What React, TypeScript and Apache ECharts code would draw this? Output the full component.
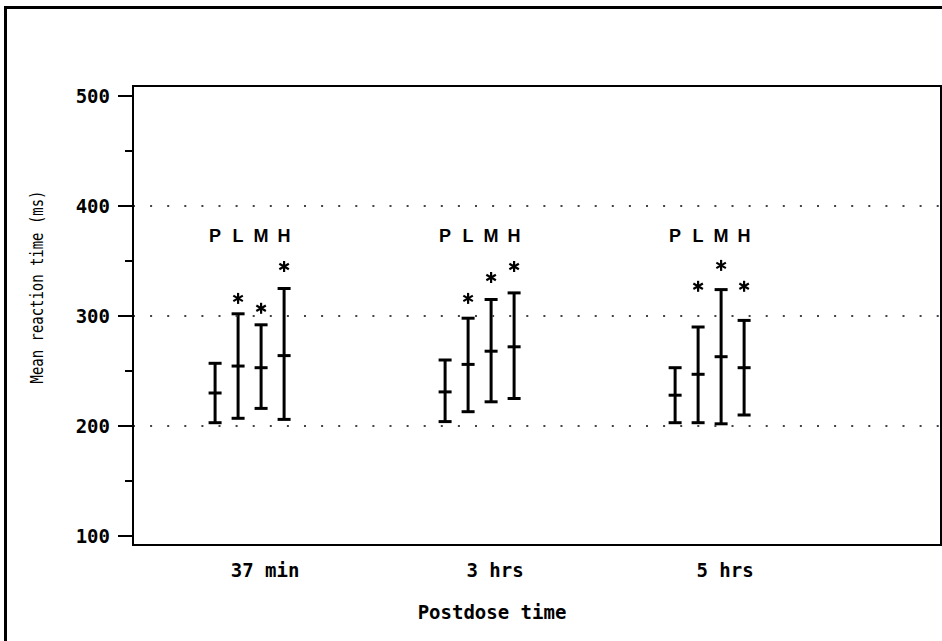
import React, { useEffect, useRef } from "react";
import * as echarts from "echarts";

// ---- data ----
const timeLabels = ["37 min", "3 hrs", "5 hrs"];
const timePositions = [1, 2, 3];
const treatments = ["P", "L", "M", "H"];
const treatmentOffsets = [-0.217, -0.117, -0.017, 0.083];

const meanP = [230, 231, 228];
const meanL = [254.5, 256, 247];
const meanM = [253, 268, 263];
const meanH = [264, 272, 253];

const upperP = [257, 260, 253];
const upperL = [302, 298, 290];
const upperM = [292, 315, 324];
const upperH = [325, 321, 296];

const lowerP = [203, 204, 203];
const lowerL = [207, 213, 203];
const lowerM = [216, 222, 202];
const lowerH = [206, 225, 210];

// asterisk levels (null = no asterisk)
const starP: (number | null)[] = [null, null, null];
const starL: (number | null)[] = [316, 316, 327];
const starM: (number | null)[] = [307, 335, 346];
const starH: (number | null)[] = [345, 345, 327];

const letterLevel = 373;
const dottedLevels = [200, 300, 400];
const yMin = 100;
const yMax = 500;
const yInterval = 100;

const xTitle = "Postdose time";
const yTitle = "Mean reaction time (ms)";

const means = [meanP, meanL, meanM, meanH];
const uppers = [upperP, upperL, upperM, upperH];
const lowers = [lowerP, lowerL, lowerM, lowerH];
const stars = [starP, starL, starM, starH];

const MONO = '"DejaVu Sans Mono", monospace';

export default function App() {
  const ref = useRef<HTMLDivElement>(null);

  useEffect(() => {
    if (!ref.current) return;
    const chart = echarts.init(ref.current, null, { renderer: "svg" });

    const errData: number[][] = [];
    const letterData: number[][] = [];
    const letterText: string[] = [];
    const starData: number[][] = [];
    treatments.forEach((t, ti) => {
      timePositions.forEach((tp, gi) => {
        const x = tp + treatmentOffsets[ti];
        errData.push([x, lowers[ti][gi], means[ti][gi], uppers[ti][gi]]);
        letterData.push([x, letterLevel]);
        letterText.push(t);
        const s = stars[ti][gi];
        if (s !== null) starData.push([x, s]);
      });
    });

    const barStyle = { stroke: "#000", lineWidth: 3 };
    const capHalf = 6.5;

    const option: any = {
      animation: false,
      backgroundColor: "#fff",
      grid: { left: 133, right: 1, top: 96, bottom: 105, containLabel: false },
      xAxis: {
        type: "value",
        min: 0.4261,
        max: 3.939,
        axisLine: { show: false },
        axisTick: { show: false },
        splitLine: { show: false },
        axisLabel: {
          customValues: timePositions,
          formatter: (v: number) => timeLabels[timePositions.indexOf(v)] ?? "",
          margin: 24,
          color: "#000",
          fontFamily: MONO,
          fontWeight: "bold",
          fontSize: 19,
        },
      },
      yAxis: {
        type: "value",
        min: yMin,
        max: yMax,
        interval: yInterval,
        axisLine: { show: false },
        axisTick: {
          show: true,
          length: 15,
          lineStyle: { color: "#000", width: 2 },
        },
        minorTick: {
          show: true,
          splitNumber: 2,
          length: 8,
          lineStyle: { color: "#000", width: 2 },
        },
        splitLine: { show: false },
        axisLabel: {
          margin: 23,
          padding: [5, 0, 0, 0],
          color: "#000",
          fontFamily: MONO,
          fontWeight: "bold",
          fontSize: 19,
        },
      },
      graphic: [
        {
          type: "rect",
          shape: { x: 5.5, y: 7.5, width: 1000, height: 1000 },
          style: { fill: "none", stroke: "#000", lineWidth: 3 },
          z: 100,
        },
        {
          type: "rect",
          shape: { x: 133, y: 86, width: 808, height: 459 },
          style: { fill: "none", stroke: "#000", lineWidth: 2 },
          z: 100,
        },
        {
          type: "text",
          x: 492,
          y: 612,
          style: {
            text: xTitle,
            fill: "#000",
            font: `bold 19px ${MONO}`,
            textAlign: "center",
            textVerticalAlign: "middle",
          },
          z: 100,
        },
        {
          type: "text",
          x: 38,
          y: 287,
          rotation: Math.PI / 2,
          scaleX: 0.82,
          style: {
            text: yTitle,
            fill: "#000",
            font: `17px ${MONO}`,
            textAlign: "center",
            textVerticalAlign: "middle",
          },
          z: 100,
        },
      ],
      series: [
        {
          type: "custom",
          name: "errorbars",
          data: errData,
          encode: { x: 0, y: [1, 2, 3] },
          renderItem: (params: any, api: any) => {
            const x = api.value(0);
            const lo = api.coord([x, api.value(1)]);
            const mid = api.coord([x, api.value(2)]);
            const hi = api.coord([x, api.value(3)]);
            const cx = lo[0];
            return {
              type: "group",
              children: [
                { type: "line", shape: { x1: cx, y1: lo[1], x2: cx, y2: hi[1] }, style: barStyle },
                { type: "line", shape: { x1: cx - capHalf, y1: lo[1], x2: cx + capHalf, y2: lo[1] }, style: barStyle },
                { type: "line", shape: { x1: cx - capHalf, y1: mid[1], x2: cx + capHalf, y2: mid[1] }, style: barStyle },
                { type: "line", shape: { x1: cx - capHalf, y1: hi[1], x2: cx + capHalf, y2: hi[1] }, style: barStyle },
              ],
            };
          },
          markLine: {
            silent: true,
            symbol: ["none", "none"],
            label: { show: false },
            lineStyle: { color: "#444", width: 2, type: [2, 15.1] },
            data: dottedLevels.map((v) => ({ yAxis: v })),
          },
        },
        {
          type: "custom",
          name: "stars",
          data: starData,
          encode: { x: 0, y: 1 },
          renderItem: (params: any, api: any) => {
            const c = api.coord([api.value(0), api.value(1)]);
            const r = 5.5;
            const dx = r * Math.cos(Math.PI / 6);
            const dy = r * Math.sin(Math.PI / 6);
            const st = { stroke: "#000", lineWidth: 2.2 };
            return {
              type: "group",
              children: [
                { type: "line", shape: { x1: c[0], y1: c[1] - r, x2: c[0], y2: c[1] + r }, style: st },
                { type: "line", shape: { x1: c[0] - dx, y1: c[1] - dy, x2: c[0] + dx, y2: c[1] + dy }, style: st },
                { type: "line", shape: { x1: c[0] - dx, y1: c[1] + dy, x2: c[0] + dx, y2: c[1] - dy }, style: st },
              ],
            };
          },
        },
        {
          type: "custom",
          name: "letters",
          data: letterData,
          encode: { x: 0, y: 1 },
          renderItem: (params: any, api: any) => {
            const c = api.coord([api.value(0), api.value(1)]);
            return {
              type: "text",
              x: c[0],
              y: c[1],
              style: {
                text: letterText[params.dataIndex],
                fill: "#000",
                font: 'bold 18px "Liberation Sans", Arial, sans-serif',
                textAlign: "center",
                textVerticalAlign: "middle",
              },
            };
          },
        },
      ],
    };

    chart.setOption(option);
    return () => chart.dispose();
  }, []);

  return (
    <div
      ref={ref}
      style={{ position: "absolute", left: 0, top: 0, width: 942, height: 641 }}
    />
  );
}
